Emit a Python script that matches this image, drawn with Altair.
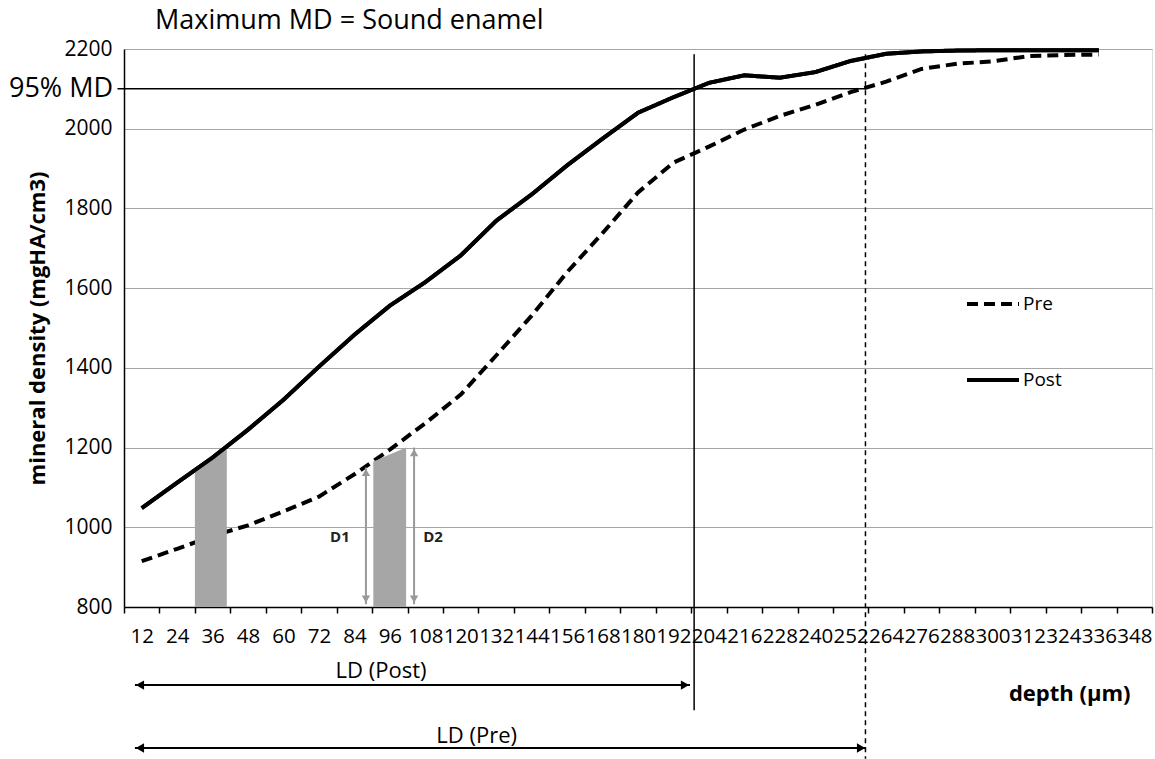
import altair as alt
import pandas as pd

# ---------------- data ----------------
depth = [12, 24, 36, 48, 60, 72, 84, 96, 108, 120, 132, 144, 156, 168,
         180, 192, 204, 216, 228, 240, 252, 264, 276, 288, 300, 312, 324, 336]
pre_md = [915, 946, 978, 1005, 1040, 1077, 1133, 1195, 1261, 1333, 1431, 1531, 1640, 1738,
          1840, 1915, 1955, 1998, 2032, 2060, 2092, 2118, 2150, 2163, 2169, 2182, 2185, 2186]
post_md = [1048, 1112, 1175, 1245, 1320, 1403, 1483, 1556, 1615, 1682, 1769, 1835, 1908, 1975,
           2040, 2079, 2115, 2134, 2128, 2142, 2170, 2188, 2194, 2196, 2197, 2197, 2197, 2197]
series_names = ["Pre", "Post"]
x_tick_bounds = list(range(6, 355, 12))          # category boundaries 6..354
y_ticks = [800, 1000, 1200, 1400, 1600, 1800, 2000, 2200]

# annotation values (in data units)
md95 = 2100
ld_post_depth = 199
ld_pre_depth = 257
vline_top = 2187
bar_names = ["a", "a", "a", "b", "b"]
bar_depth = [30.0, 36, 40.8, 90.4, 101.5]
bar_md = [1143, 1175, 1200, 1165, 1200]
d_names = ["D1", "D2"]
d_depth = [87.9, 104.2]
d_top = [1150, 1200]
d_bottom = 807
d_label_depth = [79.1, 110.6]
d_label_md = 975
ld_names = ["LD (Post)", "LD (Pre)"]
ld_end = [197.6, 257.2]
ld_start = 9.7
ld_arrow_md = [604, 446]
ld_text_depth = [93.0, 125.4]
ld_text_md = [640, 476]

FONT = "Open Sans"
W, H = 1028, 558
half_band = W / 29 / 2

xscale = alt.Scale(domain=[6, 354], nice=False, zero=False)
yscale = alt.Scale(domain=[800, 2200], nice=False, zero=False)

lines = pd.DataFrame({
    "depth": depth * 2,
    "md": pre_md + post_md,
    "series": ["Pre"] * len(depth) + ["Post"] * len(depth),
})

x_axis = alt.Axis(
    values=x_tick_bounds,
    title="depth (µm)",
    labelExpr="datum.value > 350 ? '' : toString(datum.value + 6)",
    labelOffset=half_band, labelFlush=False, labelOverlap=False, labelBound=False,
    labelFont=FONT, labelFontSize=20.5, labelColor="black", labelPadding=13,
    tickSize=6, tickColor="black", tickWidth=1.5,
    domainColor="black", domainWidth=1.5, grid=False,
    titleFont=FONT, titleFontSize=22, titleFontWeight="bold", titleColor="black",
    titleAnchor="end", titleAlign="right", titleX=1006, titleY=86, titleBaseline="middle",
)
y_axis = alt.Axis(
    values=y_ticks, format="d", title="mineral density (mgHA/cm3)",
    grid=True, gridColor="#a6a6a6", gridWidth=1, ticks=False,
    domainColor="black", domainWidth=1.5,
    labelFont=FONT, labelFontSize=21, labelColor="black", labelPadding=12,
    titleFont=FONT, titleFontSize=22, titleFontWeight="bold", titleColor="black",
    titlePadding=14,
)


def X(field):
    return alt.X(field, type="quantitative", scale=xscale, axis=x_axis)


def Y(field):
    return alt.Y(field, type="quantitative", scale=yscale, axis=y_axis)


base = alt.Chart(lines).mark_line(strokeWidth=4, color="black").encode(
    x=X("depth"),
    y=Y("md"),
    strokeDash=alt.StrokeDash(
        "series:N",
        scale=alt.Scale(domain=series_names, range=[[11, 6], [1, 0]]),
        legend=alt.Legend(
            title=None, orient="none", legendX=841, legendY=227,
            symbolType="stroke", symbolSize=2704, symbolStrokeWidth=4,
            symbolStrokeColor="black", labelFont=FONT, labelFontSize=19,
            labelColor="black", labelOffset=2, rowPadding=38, padding=0,
        ),
    ),
)

bars_df = pd.DataFrame({"bar": bar_names, "depth": bar_depth, "md": bar_md})
bars = alt.Chart(bars_df).mark_area(color="#a6a6a6", opacity=1).encode(
    x=X("depth"), y=Y("md"), y2=alt.datum(800), detail="bar:N",
)

post_df = lines[lines.series == "Post"]
post_line = alt.Chart(post_df).mark_line(strokeWidth=4, color="black").encode(
    x=X("depth"), y=Y("md"),
)

# 95% MD line
md95_df = pd.DataFrame({"depth": [3.8], "depth2": [ld_pre_depth], "md": [md95], "t": ["95% MD"],
                        "tdepth": [2.3]})
md95_rule = alt.Chart(md95_df).mark_rule(color="black", strokeWidth=1.5).encode(
    x=X("depth"), x2="depth2:Q", y=Y("md"),
)
md95_text = alt.Chart(md95_df).mark_text(
    align="right", baseline="middle", font=FONT, fontSize=27, color="black"
).encode(x=X("tdepth"), y=Y("md"), text="t:N")

# vertical lines
v_df = pd.DataFrame({"depth": [ld_post_depth, ld_pre_depth], "md": [vline_top, vline_top],
                     "md2": [541, 419]})
vpost = alt.Chart(v_df.iloc[[0]]).mark_rule(color="black", strokeWidth=1.5).encode(
    x=X("depth"), y=Y("md"), y2="md2:Q",
)
vpre = alt.Chart(v_df.iloc[[1]]).mark_rule(color="black", strokeWidth=1.5, strokeDash=[5, 4]).encode(
    x=X("depth"), y=Y("md"), y2="md2:Q",
)

# D1 / D2 arrows
d_df = pd.DataFrame({"name": d_names, "depth": d_depth, "top": d_top, "bottom": [d_bottom] * 2,
                     "ldepth": d_label_depth, "lmd": [d_label_md] * 2})
d_shaft = alt.Chart(d_df).mark_rule(color="#999999", strokeWidth=2).encode(
    x=X("depth"), y=Y("top"), y2="bottom:Q",
)
d_head_up = alt.Chart(d_df).mark_point(shape="triangle-up", filled=True, color="#999999",
                                       size=70, opacity=1, yOffset=5).encode(
    x=X("depth"), y=Y("top"),
)
d_head_down = alt.Chart(d_df).mark_point(shape="triangle-down", filled=True, color="#999999",
                                         size=70, opacity=1, yOffset=-5).encode(
    x=X("depth"), y=Y("bottom"),
)
d_text = alt.Chart(d_df).mark_text(font=FONT, fontSize=15, fontWeight="bold", color="#222222",
                                   align="center", baseline="middle").encode(
    x=X("ldepth"), y=Y("lmd"), text="name:N",
)

# LD arrows
ld_df = pd.DataFrame({"name": ld_names, "start": [ld_start] * 2, "end": ld_end,
                      "md": ld_arrow_md, "tdepth": ld_text_depth, "tmd": ld_text_md})
ld_shaft = alt.Chart(ld_df).mark_rule(color="black", strokeWidth=2).encode(
    x=X("start"), x2="end:Q", y=Y("md"),
)
ld_head_l = alt.Chart(ld_df).mark_point(shape="triangle-left", filled=True, color="black",
                                        size=90, opacity=1, xOffset=5).encode(
    x=X("start"), y=Y("md"),
)
ld_head_r = alt.Chart(ld_df).mark_point(shape="triangle-right", filled=True, color="black",
                                        size=90, opacity=1, xOffset=-5).encode(
    x=X("end"), y=Y("md"),
)
ld_text = alt.Chart(ld_df).mark_text(font=FONT, fontSize=22, color="black",
                                     align="center", baseline="middle").encode(
    x=X("tdepth"), y=Y("tmd"), text="name:N",
)

chart = alt.layer(
    base, bars, post_line, md95_rule, md95_text, vpost, vpre,
    d_shaft, d_head_up, d_head_down, d_text,
    ld_shaft, ld_head_l, ld_head_r, ld_text,
).properties(
    width=W, height=H,
    title=alt.TitleParams("Maximum MD = Sound enamel", anchor="start", dx=31, fontSize=27,
                          font=FONT, fontWeight="normal", color="black", offset=3, frame="group"),
    autosize=alt.AutoSizeParams(type="none"),
    padding={"left": 124, "top": 49, "right": 3, "bottom": 152},
).configure_view(strokeWidth=0).configure(background="white")

chart.save("out.html", embed_options={"renderer": "svg", "actions": False})
